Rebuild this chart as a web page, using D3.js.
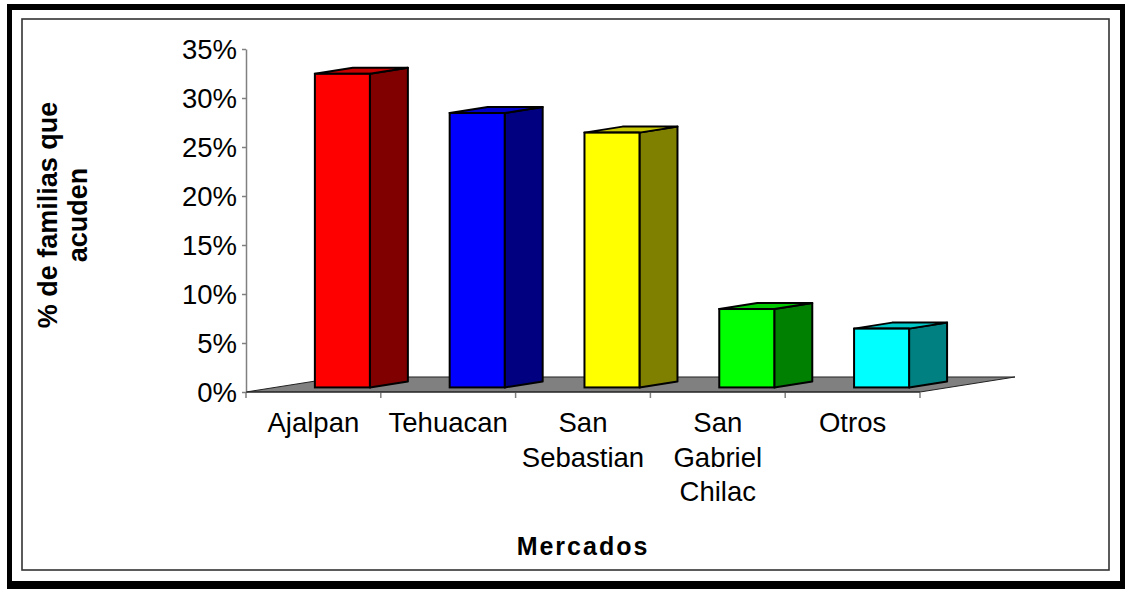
<!DOCTYPE html>
<html>
<head>
<meta charset="utf-8">
<script src="https://cdn.jsdelivr.net/npm/d3@7"></script>
<style>
  html, body { margin: 0; padding: 0; background: #fff; }
  svg { display: block; }
  text { font-family: "Liberation Sans", Arial, sans-serif; fill: #000; }
</style>
</head>
<body>
<svg id="chart" width="1125" height="589"></svg>
<script>
// Market share of families by market
const categories = [["Ajalpan"], ["Tehuacan"], ["San", "Sebastian"], ["San", "Gabriel", "Chilac"], ["Otros"]];
const values = [32, 28, 26, 8, 6];
const frontColors = ["#ff0000", "#0000ff", "#ffff00", "#00ff00", "#00ffff"];
const sideColors  = ["#800000", "#000080", "#808000", "#008000", "#008080"];
const topColors   = ["#c80000", "#0000c8", "#c8c800", "#00c800", "#00c8c8"];
const yTicks = [0, 5, 10, 15, 20, 25, 30, 35];
const yTitle = ["% de familias que", "acuden"];
const xTitle = "Mercados";

const svg = d3.select("#chart");

// frame
svg.append("rect").attr("x", 7).attr("y", 4).attr("width", 1118).attr("height", 585).attr("fill", "#000");
svg.append("rect").attr("x", 12).attr("y", 10).attr("width", 1108).attr("height", 571).attr("fill", "#fff");
svg.append("rect").attr("x", 22).attr("y", 19).attr("width", 1087).attr("height", 551)
  .attr("fill", "none").attr("stroke", "#333").attr("stroke-width", 1.6);

const keys = categories.map(c => c.join(" "));
const x = d3.scaleBand().domain(keys).range([246, 920]).padding(0);
const y = d3.scaleLinear().domain([0, 35]).range([392, 49]);

// oblique depth projection
const depthX = d3.scaleLinear().domain([0, 1]).range([0, 95]);
const slope = -0.158;
const proj = t => ({ dx: depthX(t), dy: depthX(t) * slope });
const barFront = proj(0.305), barBack = proj(0.705), floorBack = proj(1);
const barW = x.bandwidth() * 0.408;

// floor
const x0 = x.range()[0], x1 = x.range()[1], y0 = y(0);
svg.append("polygon")
  .attr("points", [[x0, y0], [x1, y0], [x1 + floorBack.dx, y0 + floorBack.dy], [x0 + floorBack.dx, y0 + floorBack.dy]].map(p => p.join(",")).join(" "))
  .attr("fill", "#808080").attr("stroke", "#222").attr("stroke-width", 1);

// y axis
const yAxis = svg.append("g").attr("transform", `translate(${x0},0)`)
  .call(d3.axisLeft(y).tickValues(yTicks).tickFormat(d => d + "%").tickSize(4).tickSizeOuter(0).tickPadding(5));
yAxis.select(".domain").attr("stroke", "#808080").attr("stroke-width", 1.5);
yAxis.selectAll(".tick line").attr("stroke", "#808080").attr("stroke-width", 1.5);
yAxis.selectAll(".tick text").attr("font-size", 27.5).attr("font-family", "Liberation Sans, Arial, sans-serif").attr("fill", "#000").attr("dy", "0.36em");

// x axis ticks at category boundaries
const bounds = keys.map(k => x(k)).concat([x1]);
svg.append("g").selectAll("line").data(bounds).join("line")
  .attr("x1", d => d).attr("x2", d => d).attr("y1", y0).attr("y2", y0 + 6)
  .attr("stroke", "#808080").attr("stroke-width", 1.5);
svg.append("line").attr("x1", x0).attr("x2", x1).attr("y1", y0).attr("y2", y0)
  .attr("stroke", "#222").attr("stroke-width", 1);

// category labels
const labels = svg.append("g").selectAll("text").data(categories).join("text")
  .attr("x", (d, i) => x(keys[i]) + x.bandwidth() / 2)
  .attr("y", 432).attr("text-anchor", "middle").attr("font-size", 27.5);
labels.selectAll("tspan").data(d => d).join("tspan")
  .attr("x", function () { return d3.select(this.parentNode).attr("x"); })
  .attr("dy", (d, i) => i === 0 ? 0 : 34.5).text(d => d);

// bars
const bars = svg.append("g").selectAll("g").data(values).join("g");
bars.each(function (v, i) {
  const g = d3.select(this);
  const cx = x(keys[i]) + x.bandwidth() / 2;
  const fx0 = cx - barW / 2 + barFront.dx, fx1 = fx0 + barW;
  const yt = y(v) + barFront.dy, yb = y(0) + barFront.dy;
  const ddx = barBack.dx - barFront.dx, ddy = barBack.dy - barFront.dy;
  const pts = a => a.map(p => p.join(",")).join(" ");
  g.append("polygon").attr("points", pts([[fx1, yt], [fx1 + ddx, yt + ddy], [fx1 + ddx, yb + ddy], [fx1, yb]]))
    .attr("fill", sideColors[i]).attr("stroke", "#000").attr("stroke-width", 2).attr("stroke-linejoin", "round");
  g.append("polygon").attr("points", pts([[fx0, yt], [fx0 + ddx, yt + ddy], [fx1 + ddx, yt + ddy], [fx1, yt]]))
    .attr("fill", topColors[i]).attr("stroke", "#000").attr("stroke-width", 2).attr("stroke-linejoin", "round");
  g.append("rect").attr("x", fx0).attr("y", yt).attr("width", barW).attr("height", yb - yt)
    .attr("fill", frontColors[i]).attr("stroke", "#000").attr("stroke-width", 2);
});

// axis titles
const yt = svg.append("text").attr("transform", "translate(57,215) rotate(-90)")
  .attr("text-anchor", "middle").attr("font-size", 27).attr("font-weight", "bold");
yt.selectAll("tspan").data(yTitle).join("tspan")
  .attr("x", 0).attr("dy", (d, i) => i === 0 ? 0 : 30).text(d => d);

svg.append("text").attr("x", 583).attr("y", 555).attr("text-anchor", "middle")
  .attr("font-size", 25).attr("font-weight", "bold").attr("letter-spacing", 2).text(xTitle);
</script>
</body>
</html>
